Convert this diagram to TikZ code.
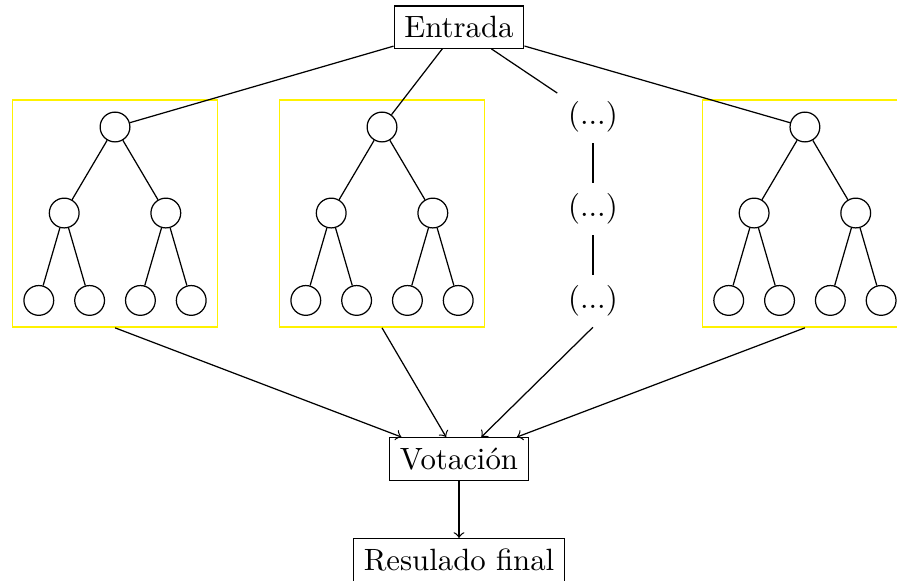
\documentclass[tikz,border=0pt]{standalone}
\usetikzlibrary{positioning}
\tikzset{
  hoja/.style={draw, circle, minimum size=0.34cm, inner sep=0pt},
  caja/.style={draw, rectangle},
  marco/.style={draw=yellow, semithick, minimum width=2.34cm, minimum height=2.59cm, inner sep=0pt},
}
\begin{document}
\begin{tikzpicture}[>=to]
  \useasboundingbox (0,0) rectangle (10.24,-6.632);
  \clip (0,0) rectangle (10.24,-6.632);

  % entrada, votacion y salida
  \node[caja] (entrada) at (5.24,-0.31) {Entrada};
  \node[caja] (voto) at (5.24,-5.24) {Votación};
  \node[caja] (final) at (5.24,-6.393) {Resulado final};

  % arboles del bosque (raiz, dos hijos, cuatro hojas)
  \foreach \t/\x in {a/1.313, b/4.361, c/9.189} {
    \node[marco] (\t-box) at (\x,-2.437) {};
    \node[hoja] (\t) at (\x,-1.450) {};
    \node[hoja] (\t-l) at (\x-0.58,-2.432) {};
    \node[hoja] (\t-r) at (\x+0.58,-2.432) {};
    \node[hoja] (\t-ll) at (\x-0.87,-3.43) {};
    \node[hoja] (\t-lr) at (\x-0.29,-3.43) {};
    \node[hoja] (\t-rl) at (\x+0.29,-3.43) {};
    \node[hoja] (\t-rr) at (\x+0.87,-3.43) {};
    \draw (\t) -- (\t-l);
    \draw (\t) -- (\t-r);
    \draw (\t-l) -- (\t-ll);
    \draw (\t-l) -- (\t-lr);
    \draw (\t-r) -- (\t-rl);
    \draw (\t-r) -- (\t-rr);
    \draw (entrada) -- (\t);
    \draw[->] (\t-box.south) -- (voto);
  }

  % columna de puntos suspensivos
  \node (d1) at (6.769,-1.336) {(...)};
  \node (d2) at (6.769,-2.386) {(...)};
  \node (d3) at (6.769,-3.436) {(...)};
  \draw (d1) -- (d2);
  \draw (d2) -- (d3);
  \draw (entrada) -- (d1);
  \draw[->] (d3.south) -- (voto);

  \draw[->] (voto) -- (final);
\end{tikzpicture}
\end{document}
